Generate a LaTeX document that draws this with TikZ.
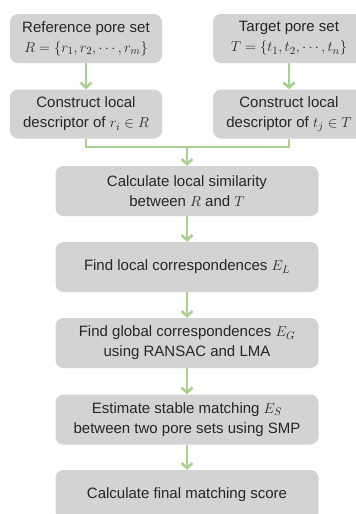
\documentclass[tikz,border=0pt]{standalone}
\usepackage{fontspec}
\setmainfont{Liberation Sans}
\usetikzlibrary{arrows.meta}
\definecolor{boxgray}{HTML}{D3D3D3}
\definecolor{flowgreen}{HTML}{A9D18E}
\definecolor{txt}{HTML}{262626}
\begin{document}
\begin{tikzpicture}[x=1pt,y=-1pt,
  stepbox/.style={draw=none,fill=boxgray,rounded corners=8pt,align=center,
    text=txt,font=\fontsize{15}{20}\selectfont,inner sep=0pt},
  smallbox/.style={stepbox,minimum width=152pt,minimum height=49pt},
  widebox/.style={stepbox,minimum width=263pt,minimum height=50pt},
  flow/.style={draw=flowgreen,line width=2.6pt},
  flowarrow/.style={flow,-{Straight Barb[length=5pt,width=11pt,line width=2.6pt]}}]
\useasboundingbox (0,0) rectangle (356,514);
\node[smallbox] (B1) at (86,38.5) {Reference pore set\\$R=\{r_1,r_2,\cdots,r_m\}$};
\node[smallbox] (B2) at (289,38.5) {Target pore set\\$T=\{t_1,t_2,\cdots,t_n\}$};
\node[smallbox] (B3) at (86,114) {Construct local\\descriptor of $r_i\in R$};
\node[smallbox] (B4) at (289,114) {Construct local\\descriptor of $t_j\in T$};
\node[widebox] (B5) at (187,191) {Calculate local similarity\\between $R$ and $T$};
\node[widebox] (B6) at (187,267) {Find local correspondences $E_L$};
\node[widebox] (B7) at (187,343) {Find global correspondences $E_G$\\using RANSAC and LMA};
\node[widebox] (B8) at (187,419.5) {Estimate stable matching $E_S$\\between two pore sets using SMP};
\node[widebox] (B9) at (187,495) {Calculate final matching score};
\coordinate (M) at (187,147);
\draw[flowarrow] (B1) -- (B3);
\draw[flowarrow] (B2) -- (B4);
\draw[flow] (B3.south) |- (M) -| (B4.south);
\draw[flowarrow] (M) -- (B5.north);
\draw[flowarrow] (B5) -- (B6);
\draw[flowarrow] (B6) -- (B7);
\draw[flowarrow] (B7) -- (B8);
\draw[flowarrow] (B8) -- (B9);
\end{tikzpicture}
\end{document}
